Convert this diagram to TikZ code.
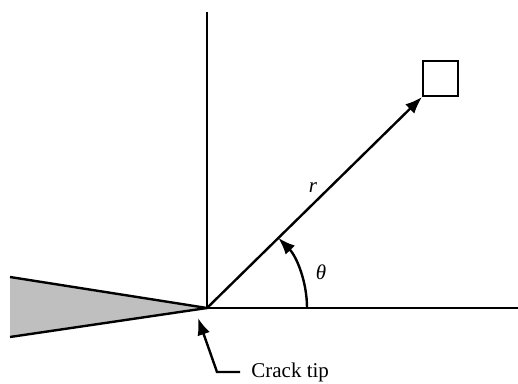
\documentclass[tikz,border=0pt]{standalone}
\usepackage{fontspec}
\setmainfont{Liberation Serif}
\usetikzlibrary{arrows.meta,positioning}

\begin{document}
\begin{tikzpicture}[x=0.5pt, y=-0.5pt, every node/.style={font=\fontsize{10.5}{12}\selectfont}, >={Latex[length=8.5pt,width=6.5pt]}, axis/.style={line width=1.2pt}]
	\useasboundingbox (0,0) rectangle (518,384);
	\coordinate (tip) at (207,308);
	\coordinate (top) at (207,12);
	\coordinate (right) at (518,308);
	\fill[gray!50] (10,277) -- (tip) -- (10,337) -- cycle;
	\draw[axis] (10,277) -- (tip) -- (10,337);
	\draw[axis] (top) -- (tip) -- (right);
	\node[draw, line width=1.2pt, minimum size=17.5pt, inner sep=0pt, anchor=south west] (elem) at (422,97) {};
	\draw[axis, ->] (tip) -- (elem.south west);
	\node (r) at (313,188) {\textit{r}};
	\draw[axis, ->] (307,308) arc[start angle=0, end angle=-44.5, radius=100];
	\node (theta) at (321,272) {\textit{θ}};
	\node[anchor=west, inner sep=0pt] (label) at (251,372) {Crack tip};
	\coordinate (bend) at (217,372);
	\draw[axis, ->] (label.west) ++(-11,0) -- (bend) -- (198,318);
\end{tikzpicture}
\end{document}
